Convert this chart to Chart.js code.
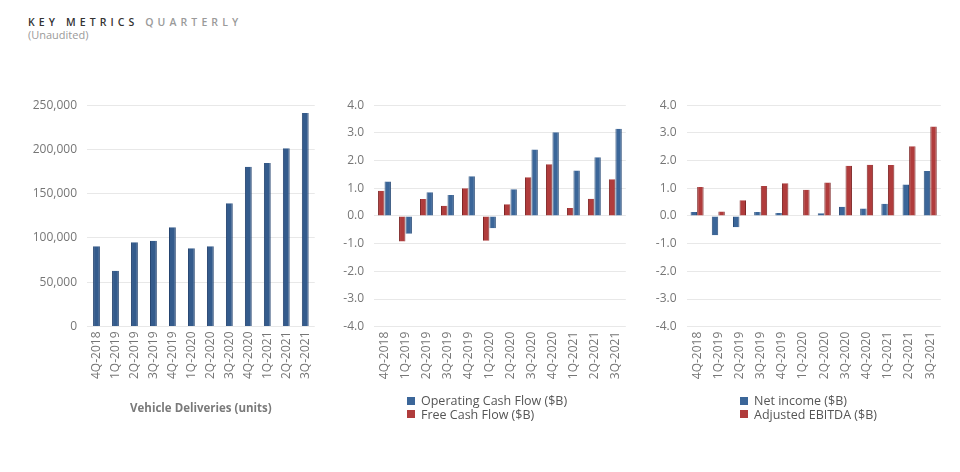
<!DOCTYPE html>
<html><head><meta charset="utf-8">
<script src="https://cdn.jsdelivr.net/npm/chart.js@4.4.0/dist/chart.umd.min.js"></script>
<style>
html,body{margin:0;padding:0;background:#fff;width:960px;height:472px;overflow:hidden;font-family:'Open Sans',sans-serif;}
.box{position:absolute;}
#title{position:absolute;left:28px;top:15px;font-size:10.5px;font-weight:600;letter-spacing:4.1px;color:#333;white-space:nowrap;line-height:14px;}
#title span{color:#9a9a9a;font-weight:600;}
#sub{position:absolute;left:28px;top:28px;font-size:11px;color:#9a9a9a;line-height:14px;}
.legend{position:absolute;font-size:12.5px;color:#555;line-height:13.5px;}
.legend div{display:flex;align-items:center;white-space:nowrap;}
.legend i{display:inline-block;width:8px;height:8px;margin-right:6px;}
</style>
</head><body>
<div id="title">KEY METRICS <span>QUARTERLY</span></div>
<div id="sub">(Unaudited)</div>
<div class="box" style="left:20px;top:88px;"><canvas id="c1" width="305" height="330"></canvas></div>
<div class="box" style="left:320px;top:88px;"><canvas id="c2" width="315" height="307"></canvas></div>
<div class="box" style="left:632px;top:88px;"><canvas id="c3" width="318" height="307"></canvas></div>
<div class="legend" id="lg2" style="left:407px;top:394px;"></div>
<div class="legend" id="lg3" style="left:740px;top:394px;"></div>
<script>
const quarters = ['4Q-2018','1Q-2019','2Q-2019','3Q-2019','4Q-2019','1Q-2020','2Q-2020','3Q-2020','4Q-2020','1Q-2021','2Q-2021','3Q-2021'];
const deliveries = [90700, 63000, 95200, 97000, 112000, 88400, 90650, 139300, 180570, 184800, 201250, 241300];
const operatingCashFlow = [1.24, -0.64, 0.86, 0.76, 1.43, -0.44, 0.96, 2.40, 3.02, 1.64, 2.12, 3.15];
const freeCashFlow = [0.91, -0.92, 0.61, 0.37, 1.00, -0.90, 0.42, 1.40, 1.87, 0.29, 0.62, 1.33];
const netIncome = [0.14, -0.70, -0.41, 0.14, 0.11, 0.02, 0.10, 0.33, 0.27, 0.44, 1.14, 1.62];
const adjustedEbitda = [1.05, 0.16, 0.57, 1.08, 1.18, 0.95, 1.21, 1.81, 1.85, 1.84, 2.52, 3.23];
const deliveryTicks = [0, 50000, 100000, 150000, 200000, 250000];
const financeTicks = [-4, -3, -2, -1, 0, 1, 2, 3, 4];

const BLUE = '#3b6699', BLUE_EDGE = '#2a4c78';
const NAVY = '#345b8c', NAVY_EDGE = '#254470';
const RED = '#b03c3c', RED_EDGE = '#7e2626';
const TICK = '#767676';
const GRID = '#e8e8e8';
const FONT = "'Open Sans', sans-serif";

function opts(o){
  return {
    responsive:false, animation:false, devicePixelRatio:1,
    layout:{padding:{top:o.padTop, right:o.padRight, left:0, bottom:0}},
    plugins:{legend:{display:false}, tooltip:{enabled:false}},
    scales:{
      x:{
        grid:{display:false, drawTicks:false},
        border:{display:false},
        ticks:{color:TICK, font:{family:FONT,size:12}, minRotation:90, maxRotation:90, autoSkip:false, padding:5},
        title:o.xTitle ? {display:true, text:o.xTitle, color:'#7a7a7a', font:{family:FONT,size:11.5,weight:'bold'}, padding:{top:0,bottom:2}} : {display:false},
        afterFit(s){ s.height = o.xHeight; }
      },
      y:{
        min:o.ticks[0], max:o.ticks[o.ticks.length-1],
        afterBuildTicks(s){ s.ticks = o.ticks.map(v=>({value:v})); },
        grid:{color:GRID, drawTicks:false, lineWidth:1},
        border:{display:false},
        ticks:{color:TICK, font:{family:FONT,size:12}, padding:10, callback:o.fmt},
        afterFit(s){ s.width = o.yWidth; }
      }
    }
  };
}

new Chart(document.getElementById('c1'), {
  type:'bar',
  data:{labels:quarters, datasets:[{label:'Vehicle Deliveries (units)', data:deliveries,
    backgroundColor:NAVY, borderColor:NAVY_EDGE, borderWidth:{left:1,right:1,top:0,bottom:0},
    categoryPercentage:0.36, barPercentage:1}]},
  options:opts({padTop:10, padRight:8, yWidth:67, xHeight:91.5, ticks:deliveryTicks,
    fmt:v=>v.toLocaleString('en-US'), xTitle:'Vehicle Deliveries (units)'})
});

const cashDatasets = [
  {label:'Free Cash Flow ($B)', data:freeCashFlow, backgroundColor:RED, borderColor:RED_EDGE},
  {label:'Operating Cash Flow ($B)', data:operatingCashFlow, backgroundColor:BLUE, borderColor:BLUE_EDGE}
];
const earnDatasets = [
  {label:'Net income ($B)', data:netIncome, backgroundColor:BLUE, borderColor:BLUE_EDGE},
  {label:'Adjusted EBITDA ($B)', data:adjustedEbitda, backgroundColor:RED, borderColor:RED_EDGE}
];
[cashDatasets, earnDatasets].forEach(ds=>ds.forEach(d=>{
  d.borderWidth={left:1,right:1,top:0,bottom:0}; d.categoryPercentage=0.62; d.barPercentage=0.98;
}));

const c2 = new Chart(document.getElementById('c2'), {
  type:'bar', data:{labels:quarters, datasets:cashDatasets},
  options:opts({padTop:10.3, padRight:6, yWidth:54, xHeight:68.3, ticks:financeTicks, fmt:v=>v.toFixed(1)})
});
const c3 = new Chart(document.getElementById('c3'), {
  type:'bar', data:{labels:quarters, datasets:earnDatasets},
  options:opts({padTop:10.3, padRight:8.5, yWidth:54.5, xHeight:68.3, ticks:financeTicks, fmt:v=>v.toFixed(1)})
});

function legend(el, items){
  el.innerHTML = items.map(d=>'<div><i style="background:'+d.backgroundColor+'"></i>'+d.label.replace(/\$/g,'&#36;')+'</div>').join('');
}
legend(document.getElementById('lg2'), [cashDatasets[1], cashDatasets[0]]);
legend(document.getElementById('lg3'), earnDatasets);
</script>
</body></html>
